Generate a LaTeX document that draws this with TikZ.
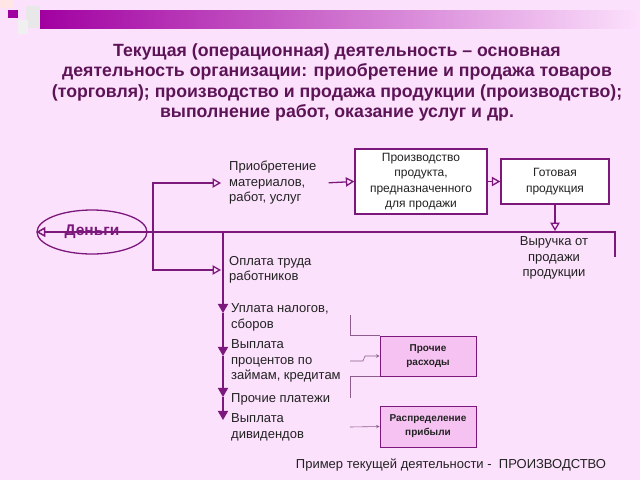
\documentclass[tikz,border=0pt]{standalone}
\usepackage{fontspec}
\setmainfont{Liberation Sans}
\usetikzlibrary{arrows}
\usetikzlibrary{calc}
\usetikzlibrary{shapes.geometric}
\definecolor{bgpink}{HTML}{FCE1FC}
\definecolor{barpurple}{HTML}{A100A1}
\definecolor{linepurple}{HTML}{7C187C}
\definecolor{titlepurple}{HTML}{5C1456}
\definecolor{boxpink}{HTML}{F6C2F2}
\definecolor{thinline}{HTML}{8C5C8C}
\definecolor{labeltext}{HTML}{222222}

\begin{document}
\begin{tikzpicture}[x=1pt, y=-1pt,
      flow/.style={ line width=1.3pt, color=linepurple, -open triangle 60},
      mainline/.style={ line width=1.5pt, color=linepurple, -open triangle 60},
      payarrow/.style={ line width=1.5pt, color=linepurple, -triangle 60},
      guide/.style={ line width=0.6pt, color=thinline},
      label/.style={ anchor=west, align=left, inner xsep=8pt, inner ysep=1pt, text=labeltext,
                     font=\fontsize{13}{15.5}\selectfont},
      whitebox/.style={ draw=linepurple, line width=1.5pt, fill=white, align=center,
                        text=labeltext, font=\fontsize{12}{15.5}\selectfont},
      pinkbox/.style={ draw=linepurple, line width=0.8pt, fill=boxpink, align=center,
                       text=labeltext, font=\bfseries\fontsize{10}{14}\selectfont}
      ]
      % background and header
      \fill[bgpink] (0,0) rectangle (640,480);
      \shade[left color=barpurple, right color=bgpink] (40,10) rectangle (640,28);
      \fill[gray!18] (26,6) rectangle (40,28);
      \fill[gray!12] (18,20) rectangle (28,34);
      \fill[pink!40] (0,0) rectangle (14,8);
      \fill[barpurple] (8,10) rectangle (18,18);

      % title
      \node[align=center, text=titlepurple, font=\bfseries\fontsize{17.7}{20.3}\selectfont]
        (Title) at (337,82.5) {Текущая (операционная) деятельность -- основная\\
        деятельность организации: приобретение и продажа товаров\\
        (торговля); производство и продажа продукции (производство);\\
        выполнение работ, оказание услуг и др.};

      % money
      \node[ellipse, draw=linepurple, line width=1.3pt, minimum width=110pt, minimum height=44pt,
            text=linepurple, font=\bfseries\fontsize{15.5}{17}\selectfont] (Money) at (92,232) {Деньги};

      % production chain
      \node[label] (Buy) at (221,183) {Приобретение\\материалов,\\работ, услуг};
      \node[whitebox, minimum width=132pt, minimum height=65pt] (Prod) at (421,181.5)
        {Производство\\продукта,\\предназначенного\\для продажи};
      \node[whitebox, minimum width=108pt, minimum height=45pt] (Ready) at (555,181.5)
        {Готовая\\продукция};
      \node[align=center, text=labeltext, font=\fontsize{13}{15.5}\selectfont]
        (Revenue) at (554,258) {Выручка от\\продажи\\продукции};

      \coordinate (RevEnd) at (615,257);
      \coordinate (RevCorner) at (615,231);
      \coordinate (Split) at (153,232);
      \draw[mainline] (RevEnd) -- (RevCorner) |- (Money.west);
      \draw[flow] (Split) |- (Buy.west);
      \draw[flow, shorten <=4pt] (Buy.east) -- (Prod.west);
      \draw[flow] (Prod.east) -- (Ready.west);
      \draw[flow] (Ready.south) -- (Ready.south |- RevCorner);

      % payments
      \node[label] (Wage) at (221,270) {Оплата труда\\работников};
      \node[label] (Tax) at (223,317.5) {Уплата налогов,\\сборов};
      \node[label] (Interest) at (223,361) {Выплата\\процентов по\\займам, кредитам};
      \node[label] (Other) at (223,399) {Прочие платежи};
      \node[label] (Divid) at (223,427.5) {Выплата\\дивидендов};
      \draw[flow] (Split) |- (Wage.west);

      \coordinate (PayTop) at (223,232);
      \coordinate (Tip1) at (223,313);
      \coordinate (Tip2) at (223,356);
      \coordinate (Tip3) at (223,397);
      \coordinate (Tip4) at (223,420);
      \foreach \a/\b in {PayTop/Tip1, Tip1/Tip2, Tip2/Tip3, Tip3/Tip4}
        \draw[payarrow] (\a) -- (\b);

      % other expenses and profit
      \node[pinkbox, minimum width=96pt, minimum height=40pt] (Expense) at (428,356) {Прочие\\расходы};
      \node[pinkbox, minimum width=96pt, minimum height=41pt] (Profit) at (428,426.5) {Распределение\\прибыли};

      \coordinate (TaxEnd) at (350,315);
      \coordinate (IntEnd) at (350,361);
      \coordinate (OtherEnd) at (350,398);
      \coordinate (DividEnd) at (350,427);
      \draw[guide] (TaxEnd) |- (Expense.north west);
      \draw[guide, -stealth] (IntEnd) -- ++(13,0) -- ++(2,-5) -- (Expense.west);
      \draw[guide] (Expense.south west) -| (OtherEnd);
      \draw[guide, -stealth] (DividEnd) -- (Profit.west);

      % footer
      \node[text=labeltext, font=\fontsize{13}{15}\selectfont] (Footer) at (451,465)
        {Пример текущей деятельности -~ ПРОИЗВОДСТВО};
\end{tikzpicture}
\end{document}
